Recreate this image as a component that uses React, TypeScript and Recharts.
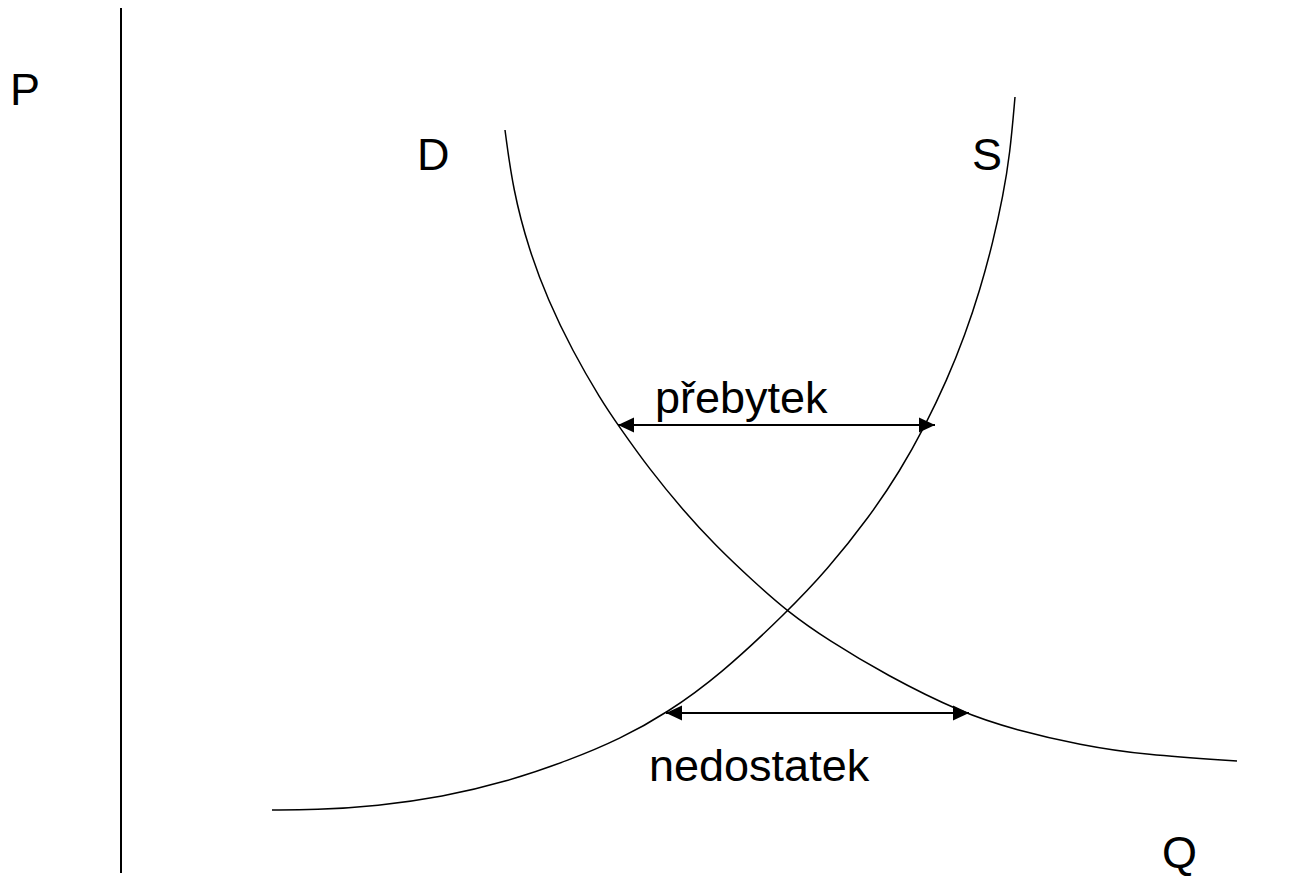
import React from "react";
import { LineChart, Line, XAxis, YAxis, ReferenceLine } from "recharts";

// demand curve D (q = quantity, p = price)
const demand = [
  { q: 3.84, p: 7.43 },
  { q: 3.92, p: 6.83 },
  { q: 4.08, p: 6.23 },
  { q: 4.27, p: 5.73 },
  { q: 4.51, p: 5.23 },
  { q: 4.8, p: 4.73 },
  { q: 4.97, p: 4.48 },
  { q: 5.29, p: 4.03 },
  { q: 5.62, p: 3.63 },
  { q: 5.94, p: 3.28 },
  { q: 6.31, p: 2.93 },
  { q: 6.67, p: 2.61 },
  { q: 7.07, p: 2.33 },
  { q: 7.65, p: 1.98 },
  { q: 8.41, p: 1.6 },
  { q: 8.95, p: 1.43 },
  { q: 9.59, p: 1.28 },
  { q: 10.24, p: 1.18 },
  { q: 11.16, p: 1.12 },
];

// supply curve S
const supply = [
  { q: 1.51, p: 0.63 },
  { q: 1.93, p: 0.63 },
  { q: 2.57, p: 0.67 },
  { q: 3.21, p: 0.76 },
  { q: 3.85, p: 0.91 },
  { q: 4.49, p: 1.13 },
  { q: 4.99, p: 1.34 },
  { q: 5.46, p: 1.6 },
  { q: 5.99, p: 1.98 },
  { q: 6.66, p: 2.61 },
  { q: 7.06, p: 3.03 },
  { q: 7.49, p: 3.57 },
  { q: 7.79, p: 4.02 },
  { q: 8.04, p: 4.47 },
  { q: 8.26, p: 4.93 },
  { q: 8.44, p: 5.38 },
  { q: 8.59, p: 5.83 },
  { q: 8.72, p: 6.31 },
  { q: 8.82, p: 6.77 },
  { q: 8.89, p: 7.19 },
  { q: 8.94, p: 7.76 },
];

// the two double arrows
const surplus = [
  { q: 4.97, p: 4.48 },
  { q: 8.14, p: 4.48 },
];
const shortage = [
  { q: 5.45, p: 1.6 },
  { q: 8.48, p: 1.6 },
];

const labels = {
  price: "P",
  quantity: "Q",
  demand: "D",
  supply: "S",
  surplus: "přebytek",
  shortage: "nedostatek",
};

const W = 1308;
const H = 887;
const font = "'Liberation Sans', Arial, sans-serif";

const ArrowHead = (props: any) => {
  const { cx, cy, index } = props;
  if (cx == null || cy == null) return <g key={index} />;
  const dir = index === 0 ? -1 : 1;
  const pts = `${cx},${cy} ${cx - dir * 16},${cy - 7.5} ${cx - dir * 16},${cy + 7.5}`;
  return <polygon key={index} points={pts} fill="#000" stroke="none" />;
};

export default function App() {
  const textStyle = { fontFamily: font, fontSize: 45, fill: "#000" };
  return (
    <div style={{ position: "absolute", left: 0, top: 0, width: W, height: H, background: "#fff" }}>
      <LineChart width={W} height={H} margin={{ top: 8, right: 7, bottom: 14, left: 121 }}>
        <XAxis type="number" dataKey="q" domain={[0, 11.8]} hide allowDataOverflow height={0} />
        <YAxis type="number" dataKey="p" domain={[0, 8.65]} hide allowDataOverflow width={0} />
        <ReferenceLine x={0} stroke="#000" strokeWidth={2} ifOverflow="visible" />
        <Line data={demand} dataKey="p" type="basis" stroke="#000" strokeWidth={1.5} dot={false} activeDot={false} isAnimationActive={false} />
        <Line data={supply} dataKey="p" type="basis" stroke="#000" strokeWidth={1.5} dot={false} activeDot={false} isAnimationActive={false} />
        <Line data={surplus} dataKey="p" type="linear" stroke="#000" strokeWidth={2} dot={ArrowHead} activeDot={false} isAnimationActive={false} />
        <Line data={shortage} dataKey="p" type="linear" stroke="#000" strokeWidth={2} dot={ArrowHead} activeDot={false} isAnimationActive={false} />
      </LineChart>
      <svg width={W} height={H} style={{ position: "absolute", left: 0, top: 0, pointerEvents: "none" }}>
        <text x={10} y={105} style={textStyle}>{labels.price}</text>
        <text x={417} y={170} style={textStyle}>{labels.demand}</text>
        <text x={972} y={170} style={textStyle}>{labels.supply}</text>
        <text x={1162} y={868} style={textStyle}>{labels.quantity}</text>
        <text x={655} y={413} style={textStyle}>{labels.surplus}</text>
        <text x={649} y={781} style={textStyle}>{labels.shortage}</text>
      </svg>
    </div>
  );
}
